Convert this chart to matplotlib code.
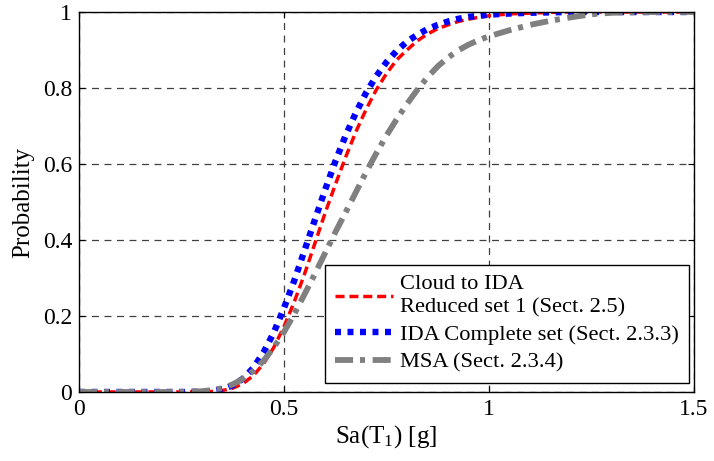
import numpy as np
import matplotlib
matplotlib.use("Agg")
import matplotlib.pyplot as plt

plt.rcParams['font.family'] = ['Liberation Serif', 'DejaVu Serif']
plt.rcParams['mathtext.default'] = 'regular'
plt.rcParams['lines.scale_dashes'] = False

# fragility curves, Sa(T1) in g vs probability of exceedance
sa = [0.0, 0.1, 0.2, 0.25, 0.300, 0.325, 0.350, 0.375, 0.400, 0.425, 0.450, 0.475,
      0.500, 0.525, 0.550, 0.575, 0.600, 0.625, 0.650, 0.675, 0.700, 0.725,
      0.750, 0.775, 0.800, 0.825, 0.850, 0.875, 0.900, 0.925, 0.950, 0.975,
      1.00, 1.05, 1.10, 1.15, 1.20, 1.25, 1.30, 1.40, 1.50]
p_cloud = [0.0, 0.0, 0.0, 0.0, 0.0004, 0.0014, 0.004, 0.010, 0.022, 0.043, 0.074, 0.117,
           0.172, 0.237, 0.31, 0.39, 0.47, 0.545, 0.617, 0.684, 0.743, 0.795,
           0.838, 0.874, 0.90, 0.924, 0.942, 0.956, 0.966, 0.975, 0.981, 0.986,
           0.99, 0.995, 0.997, 0.999, 1.0, 1.0, 1.0, 1.0, 1.0]
p_ida = [0.0, 0.0, 0.0, 0.0, 0.0008, 0.0028, 0.0075, 0.0175, 0.035, 0.063, 0.104, 0.156,
         0.221, 0.293, 0.372, 0.452, 0.531, 0.606, 0.674, 0.734, 0.787, 0.831,
         0.868, 0.898, 0.922, 0.940, 0.955, 0.966, 0.975, 0.982, 0.987, 0.990,
         0.993, 0.996, 0.998, 0.999, 1.0, 1.0, 1.0, 1.0, 1.0]
p_msa = [0.0, 0.0, 0.0, 0.0, 0.002, 0.005, 0.010, 0.020, 0.035, 0.055, 0.082, 0.117,
         0.158, 0.205, 0.257, 0.31, 0.365, 0.42, 0.472, 0.525, 0.578, 0.628,
         0.675, 0.718, 0.758, 0.795, 0.828, 0.857, 0.88, 0.899, 0.914, 0.926,
         0.936, 0.952, 0.966, 0.977, 0.986, 0.994, 0.998, 1.0, 1.0]

labels = ['Cloud to IDA\nReduced set 1 (Sect. 2.5)',
          'IDA Complete set (Sect. 2.3.3)',
          'MSA (Sect. 2.3.4)']

fig = plt.figure(figsize=(7.14, 4.61), dpi=100)
ax = fig.add_axes([0.1106, 0.1497, 0.8614, 0.8243])

l1, = ax.plot(sa, p_cloud, color='#ff0000', lw=2.5, label=labels[0])
l1.set_dashes((6.5, 3.5))
l2, = ax.plot(sa, p_ida, color='#0000ff', lw=4.6, label=labels[1],
              dash_capstyle='butt')
l2.set_dashes((4.3, 4.7))
l3, = ax.plot(sa, p_msa, color='#808080', lw=4.2, label=labels[2],
              dash_capstyle='butt')
l3.set_dashes((13.0, 5.0, 3.6, 5.5))

ax.set_xlim(0, 1.5)
ax.set_ylim(0, 1)
ax.set_xticks([0, 0.5, 1, 1.5])
ax.set_xticklabels(['0', '0.5', '1', '1.5'])
ax.set_yticks([0, 0.2, 0.4, 0.6, 0.8, 1])
ax.set_yticklabels(['0', '0.2', '0.4', '0.6', '0.8', '1'])
ax.tick_params(direction='in', top=True, right=True, labelsize=17,
               length=4, width=0.8, pad=5)
ax.grid(True, color='0.25', linestyle=(0, (5, 4)), linewidth=0.9)
for s in ax.spines.values():
    s.set_linewidth(1.0)

ax.set_xlabel('Sa(T$_1$) [g]', fontsize=18, labelpad=2)
ax.set_ylabel('Probability', fontsize=18, labelpad=6)

leg = ax.legend(loc='lower right', bbox_to_anchor=(0.992, 0.024), fontsize=16.2,
                fancybox=False, framealpha=1, edgecolor='black',
                handlelength=2.6, handletextpad=0.3, borderpad=0.45,
                labelspacing=0.3, borderaxespad=0)
leg.get_frame().set_linewidth(1.0)
leg.get_texts()[0].set_linespacing(1.3)

fig.savefig('out.png', dpi=100)
